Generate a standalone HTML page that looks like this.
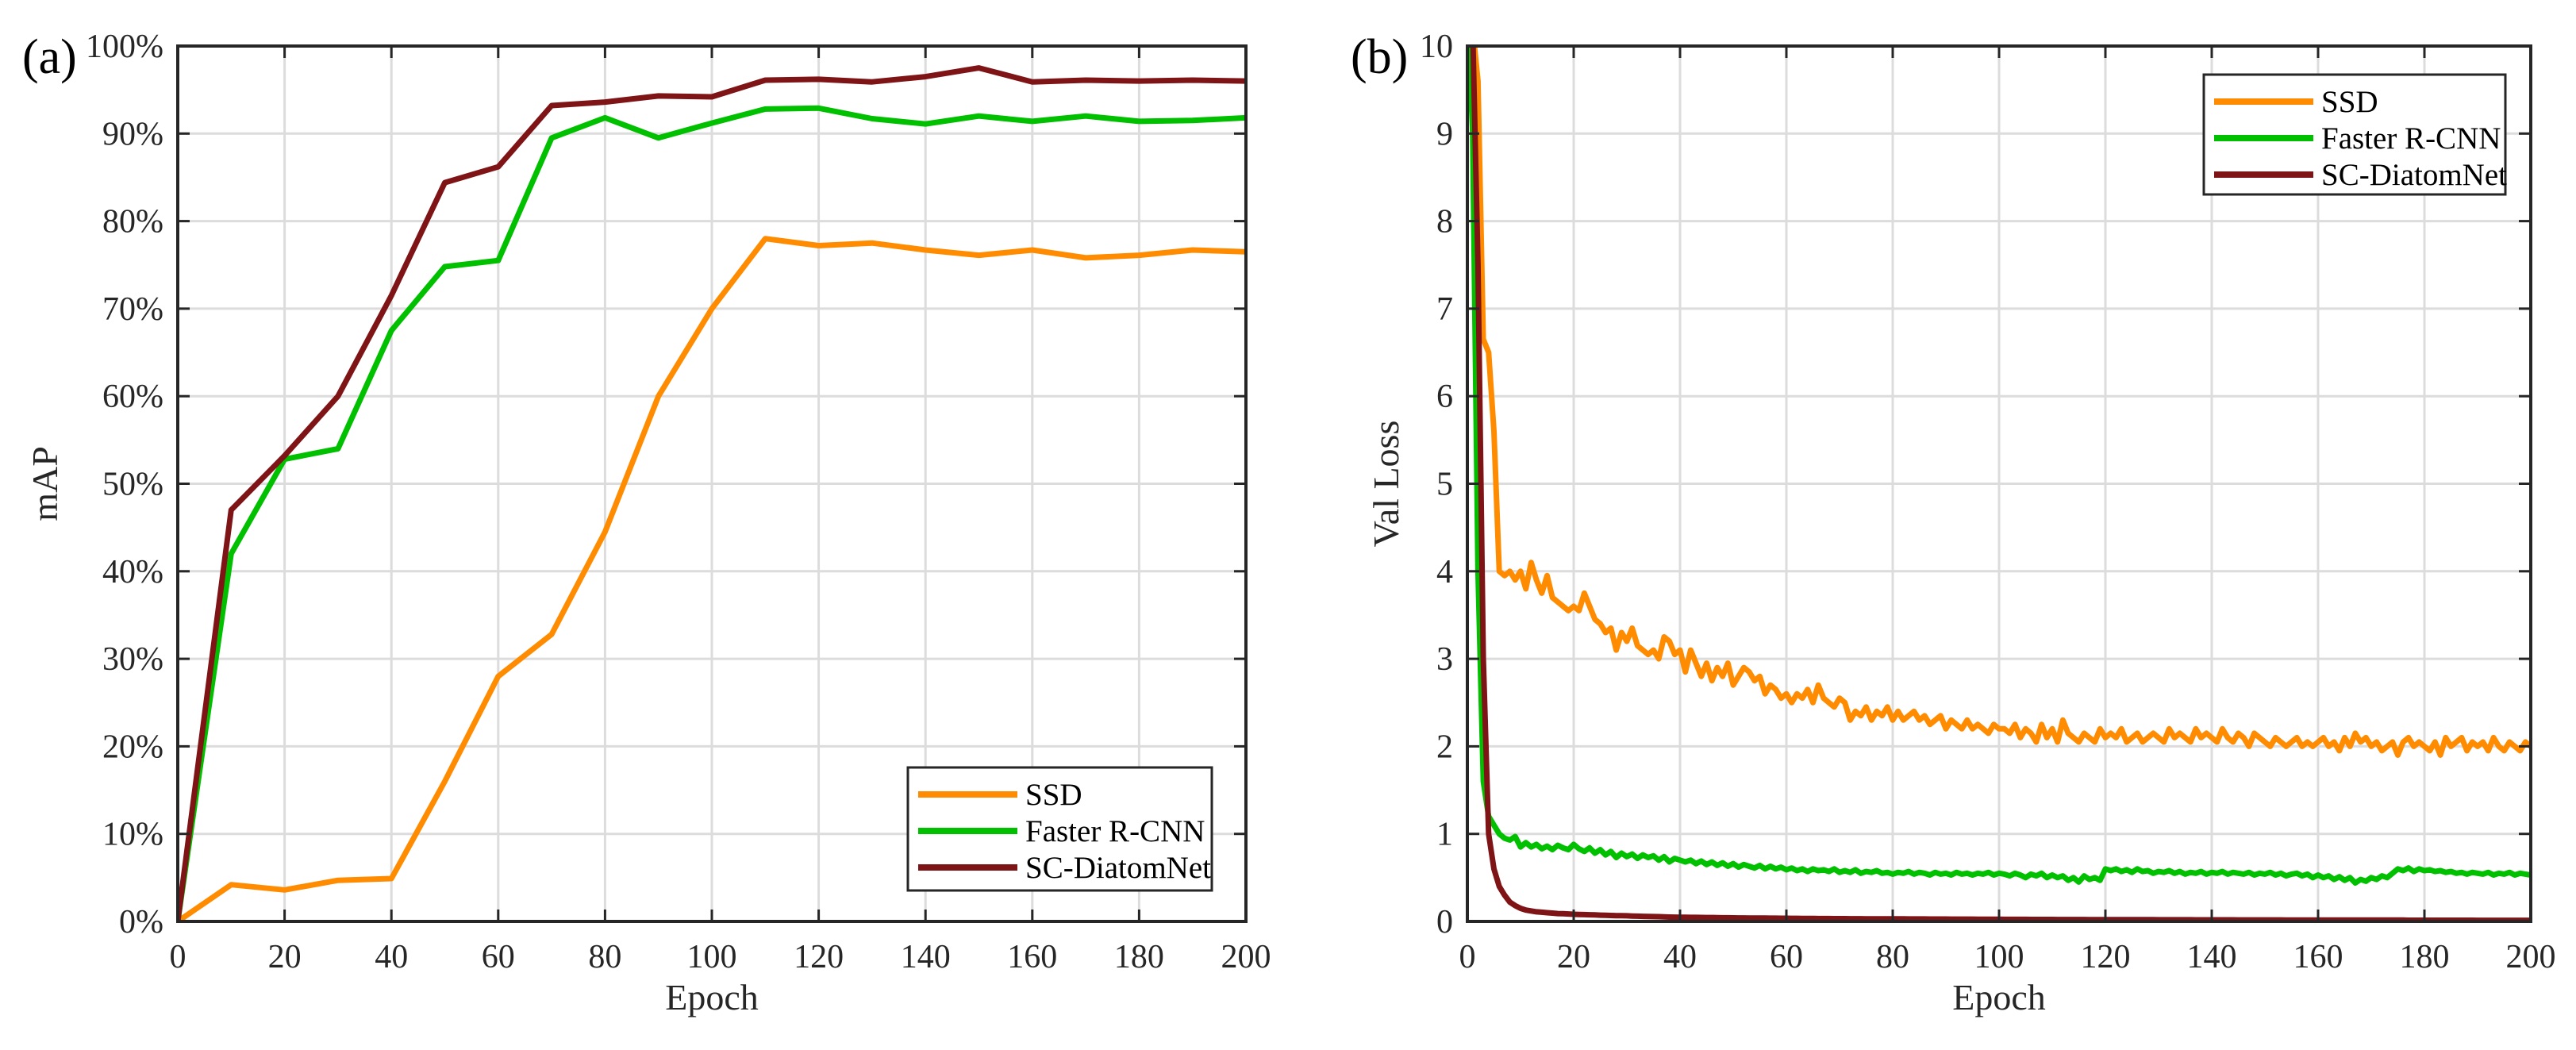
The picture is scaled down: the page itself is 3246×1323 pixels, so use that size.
<!DOCTYPE html>
<html><head><meta charset="utf-8"><style>
html,body{margin:0;padding:0;background:#fff;}
svg{display:block;font-family:"Liberation Serif",serif;}
</style></head><body>
<svg id="chart" width="3246" height="1323" viewBox="0 0 3246 1323" xmlns="http://www.w3.org/2000/svg">
<defs>
<clipPath id="clipA"><rect x="224" y="58" width="1346" height="1103"/></clipPath>
<clipPath id="clipB"><rect x="1849" y="58" width="1340" height="1103"/></clipPath>
</defs>
<g id="panelA"></g>
<g id="panelB"></g>
</svg>
<script>
// ---- Panel (a) data ----
const epochsA = [0,10,20,30,40,50,60,70,80,90,100,110,120,130,140,150,160,170,180,190,200];
const mapSSD = [0,4.2,3.6,4.7,4.9,16,28,32.8,44.5,60,70,78,77.2,77.5,76.7,76.1,76.7,75.8,76.1,76.7,76.5];
const mapFaster = [0,42,52.8,54,67.5,74.8,75.5,89.5,91.8,89.5,91.2,92.8,92.9,91.7,91.1,92,91.4,92,91.4,91.5,91.8];
const mapSC = [0,47,53.2,60,71.5,84.4,86.2,93.2,93.6,94.3,94.2,96.1,96.2,95.9,96.5,97.5,95.9,96.1,96,96.1,96];
const yTicksA = [0,10,20,30,40,50,60,70,80,90,100];
const xTicks = [0,20,40,60,80,100,120,140,160,180,200];
// ---- Panel (b) data (epoch 0..200) ----
const lossSSD = [10.5,
10.2,9.6,6.65,6.5,5.6,4.0,3.95,4.0,3.9,4.0,
3.8,4.1,3.9,3.75,3.95,3.7,3.65,3.6,3.55,3.6,
3.55,3.75,3.6,3.45,3.4,3.3,3.35,3.1,3.3,3.2,
3.35,3.15,3.1,3.05,3.1,3.0,3.25,3.2,3.05,3.1,
2.85,3.1,2.95,2.8,2.95,2.75,2.9,2.8,2.95,2.7,
2.8,2.9,2.85,2.75,2.8,2.6,2.7,2.65,2.55,2.6,
2.5,2.6,2.55,2.65,2.5,2.7,2.55,2.5,2.45,2.55,
2.5,2.3,2.4,2.35,2.45,2.3,2.4,2.35,2.45,2.3,
2.4,2.3,2.35,2.4,2.3,2.35,2.25,2.3,2.35,2.2,
2.3,2.25,2.2,2.3,2.2,2.25,2.2,2.15,2.25,2.2,
2.2,2.15,2.25,2.1,2.2,2.15,2.05,2.25,2.1,2.2,
2.05,2.3,2.15,2.1,2.05,2.15,2.1,2.05,2.2,2.1,
2.15,2.1,2.2,2.05,2.1,2.15,2.05,2.1,2.15,2.1,
2.05,2.2,2.1,2.15,2.1,2.05,2.2,2.1,2.15,2.1,
2.05,2.2,2.1,2.05,2.15,2.1,2.0,2.15,2.1,2.05,
2.0,2.1,2.05,2.0,2.05,2.1,2.0,2.05,2.0,2.05,
2.1,2.0,2.05,1.95,2.1,2.0,2.15,2.05,2.1,2.0,
2.05,1.95,2.0,2.05,1.9,2.05,2.1,2.0,2.05,2.0,
1.95,2.05,1.9,2.1,2.0,2.05,2.1,1.95,2.05,2.0,
2.05,1.95,2.1,2.0,1.95,2.05,2.0,1.95,2.05,2.0];
const lossFaster = [10.5,
9.0,4.0,1.6,1.2,1.1,1.0,0.95,0.93,0.97,0.85,
0.9,0.85,0.88,0.83,0.86,0.82,0.87,0.84,0.82,0.88,
0.83,0.8,0.84,0.78,0.82,0.76,0.8,0.73,0.78,0.74,
0.77,0.72,0.76,0.73,0.75,0.7,0.74,0.68,0.72,0.7,
0.68,0.7,0.66,0.69,0.65,0.68,0.64,0.67,0.63,0.66,
0.62,0.65,0.63,0.61,0.64,0.6,0.63,0.6,0.62,0.59,
0.61,0.58,0.6,0.57,0.6,0.58,0.59,0.57,0.6,0.56,
0.58,0.56,0.59,0.55,0.57,0.56,0.58,0.55,0.56,0.54,
0.56,0.55,0.57,0.54,0.56,0.55,0.53,0.56,0.54,0.55,
0.53,0.56,0.54,0.55,0.53,0.55,0.54,0.56,0.53,0.55,
0.54,0.52,0.55,0.53,0.5,0.54,0.52,0.55,0.5,0.53,
0.5,0.52,0.47,0.5,0.45,0.52,0.48,0.5,0.47,0.6,
0.58,0.6,0.57,0.59,0.56,0.6,0.57,0.58,0.55,0.57,
0.56,0.58,0.55,0.57,0.54,0.56,0.55,0.57,0.54,0.56,
0.55,0.57,0.54,0.56,0.55,0.54,0.56,0.53,0.55,0.54,
0.56,0.53,0.55,0.52,0.54,0.55,0.52,0.54,0.5,0.53,
0.5,0.52,0.48,0.51,0.47,0.5,0.44,0.48,0.46,0.5,
0.48,0.52,0.5,0.55,0.6,0.58,0.61,0.57,0.6,0.58,
0.59,0.57,0.58,0.56,0.57,0.55,0.56,0.54,0.56,0.55,
0.54,0.56,0.53,0.55,0.54,0.56,0.53,0.55,0.54,0.53];
const lossSC = [10.5,
10.2,7.5,3.0,1.0,0.6,0.4,0.3,0.22,0.18,0.15,
0.13,0.12,0.11,0.105,0.1,0.095,0.09,0.088,0.085,0.082,
0.08,0.078,0.076,0.074,0.072,0.07,0.068,0.066,0.065,0.064,
0.062,0.06,0.058,0.056,0.055,0.054,0.052,0.05,0.049,0.048,
0.047,0.046,0.046,0.045,0.044,0.044,0.043,0.042,0.042,0.041,
0.04,0.04,0.039,0.039,0.038,0.038,0.037,0.037,0.036,0.036,
0.035,0.035,0.034,0.034,0.034,0.033,0.033,0.033,0.032,0.032,
0.032,0.031,0.031,0.031,0.03,0.03,0.03,0.03,0.029,0.029,
0.029,0.029,0.028,0.028,0.028,0.028,0.027,0.027,0.027,0.027,
0.026,0.026,0.026,0.026,0.026,0.025,0.025,0.025,0.025,0.025,
0.024,0.024,0.024,0.024,0.024,0.023,0.023,0.023,0.023,0.023,
0.022,0.022,0.022,0.022,0.022,0.022,0.021,0.021,0.021,0.021,
0.021,0.021,0.02,0.02,0.02,0.02,0.02,0.02,0.02,0.019,
0.019,0.019,0.019,0.019,0.019,0.019,0.018,0.018,0.018,0.018,
0.018,0.018,0.018,0.018,0.017,0.017,0.017,0.017,0.017,0.017,
0.017,0.017,0.017,0.016,0.016,0.016,0.016,0.016,0.016,0.016,
0.016,0.016,0.016,0.016,0.015,0.015,0.015,0.015,0.015,0.015,
0.015,0.015,0.015,0.015,0.015,0.015,0.014,0.014,0.014,0.014,
0.014,0.014,0.014,0.014,0.014,0.014,0.014,0.014,0.014,0.013,
0.013,0.013,0.013,0.013,0.013,0.013,0.013,0.013,0.013,0.013];
const yTicksB = [0,1,2,3,4,5,6,7,8,9,10];
const seriesNames = ["SSD","Faster R-CNN","SC-DiatomNet"];
const seriesColors = ["#ff8c00","#00c000","#7f1416"];

const NS = "http://www.w3.org/2000/svg";
function mk(tag, attrs, parent){const e=document.createElementNS(NS,tag);for(const k in attrs)e.setAttribute(k,attrs[k]);parent.appendChild(e);return e;}

function panel(g, L, R, T, B, yMax, yTicks, yFmt, clipId, series, legend, ylab, letter, letterX, ylabX){
  const sx = v => L + (v/200)*(R-L);
  const sy = v => B - (v/yMax)*(B-T);
  xTicks.forEach(t=>{ if(t>0&&t<200){const l=mk('line',{x1:sx(t),x2:sx(t),y1:T,y2:B,stroke:'#dcdcdc','stroke-width':3},g);
    
    }});
  yTicks.forEach(t=>{ if(t>0&&t<yMax){const l=mk('line',{x1:L,x2:R,y1:sy(t),y2:sy(t),stroke:'#dcdcdc','stroke-width':3},g);
    
    }});
  series.forEach((s,i)=>{
    const d = s.ys.map((y,j)=>(j?'L':'M')+sx(s.xs[j]).toFixed(1)+','+sy(y).toFixed(1)).join(' ');
    const p = mk('path',{d:d,fill:'none',stroke:seriesColors[i],'stroke-width':7,'stroke-linejoin':'round','clip-path':'url(#'+clipId+')'},g);
    
    
  });
  const box = mk('rect',{x:L,y:T,width:R-L,height:B-T,fill:'none',stroke:'#262626','stroke-width':4},g);
  
  
  xTicks.forEach(t=>{
    mk('line',{x1:sx(t),x2:sx(t),y1:B,y2:B-15,stroke:'#262626','stroke-width':3},g);
    mk('line',{x1:sx(t),x2:sx(t),y1:T,y2:T+15,stroke:'#262626','stroke-width':3},g);
    const tx = mk('text',{x:sx(t),y:B+58,'text-anchor':'middle','font-size':42,fill:'#262626'},g);
    tx.textContent = t;
    
    
  });
  yTicks.forEach(t=>{
    mk('line',{x1:L,x2:L+15,y1:sy(t),y2:sy(t),stroke:'#262626','stroke-width':3},g);
    mk('line',{x1:R,x2:R-15,y1:sy(t),y2:sy(t),stroke:'#262626','stroke-width':3},g);
    const tx = mk('text',{x:L-18,y:sy(t)+14,'text-anchor':'end','font-size':42,fill:'#262626'},g);
    tx.textContent = yFmt(t);
    
    
  });
  const xt = mk('text',{x:(L+R)/2,y:1272,'text-anchor':'middle','font-size':46,fill:'#262626'},g);
  xt.textContent='Epoch';
  
  
  const yt = mk('text',{x:ylabX,y:(T+B)/2,'text-anchor':'middle','font-size':46,fill:'#262626',transform:'rotate(-90 '+ylabX+' '+((T+B)/2)+')'},g);
  yt.textContent=ylab;
  
  
  const lt = mk('text',{x:letterX,y:92,'font-size':62,fill:'#000'},g);
  lt.textContent=letter;
  
  
  const lg = mk('g',{},g);
  
  
  mk('rect',{x:legend.x,y:legend.y,width:legend.w,height:legend.h,fill:'#fff',stroke:'#262626','stroke-width':3},lg);
  seriesNames.forEach((n,i)=>{
    const cy = legend.y+34+i*46;
    const e = mk('g',{},lg);
    
    
    mk('line',{x1:legend.x+13,x2:legend.x+138,y1:cy,y2:cy,stroke:seriesColors[i],'stroke-width':8},e);
    const tx = mk('text',{x:legend.x+148,y:cy+13,'font-size':39,fill:'#000'},e);
    tx.textContent=n;
  });
}

const gA = document.getElementById('panelA');
panel(gA,224,1570,58,1161,100,yTicksA,t=>t+'%','clipA',
  [{xs:epochsA,ys:mapSSD},{xs:epochsA,ys:mapFaster},{xs:epochsA,ys:mapSC}],
  {x:1144,y:967,w:383,h:155},'mAP','(a)',28,72);
const epochsB = lossSSD.map((_,i)=>i);
const gB = document.getElementById('panelB');
panel(gB,1849,3189,58,1161,10,yTicksB,t=>String(t),'clipB',
  [{xs:epochsB,ys:lossSSD},{xs:epochsB,ys:lossFaster},{xs:epochsB,ys:lossSC}],
  {x:2777,y:94,w:380,h:151},'Val Loss','(b)',1702,1762);
</script>
</body></html>
